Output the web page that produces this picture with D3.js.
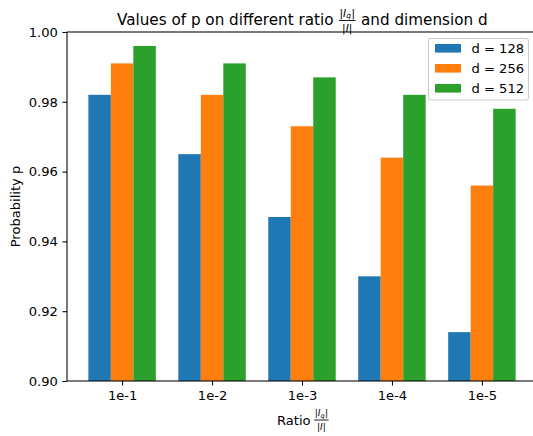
<!DOCTYPE html>
<html><head><meta charset="utf-8">
<script src="https://cdn.jsdelivr.net/npm/d3@7"></script>
<style>body{margin:0;background:#fff}svg{display:block;font-family:"DejaVu Sans",sans-serif}</style>
</head><body>
<svg id="c" width="533" height="436"></svg>
<script>
const categories = ["1e-1","1e-2","1e-3","1e-4","1e-5"];
const seriesNames = ["d = 128","d = 256","d = 512"];
const d128 = [0.982,0.965,0.947,0.930,0.914];
const d256 = [0.991,0.982,0.973,0.964,0.956];
const d512 = [0.996,0.991,0.987,0.982,0.978];
const yTicks = [0.90,0.92,0.94,0.96,0.98,1.00];
const colors = ["#1f77b4","#ff7f0e","#2ca02c"];
const series = [d128,d256,d512];

const svg = d3.select("#c");
const L=67, R=537, T=32, B=381;
const barW = 0.25;
const FS = 13.1;
const x = d3.scaleLinear().domain([-0.6125,4.6125]).range([L,R]);
const y = d3.scaleLinear().domain([0.90,1.00]).range([B,T]);

// bars
series.forEach((s,si)=>{
  svg.append("g").selectAll("rect").data(s).join("rect")
    .attr("x",(d,i)=>x(i+(si-1)*barW-barW/2))
    .attr("width",(d,i)=>x(i+(si-1)*barW+barW/2)-x(i+(si-1)*barW-barW/2))
    .attr("y",d=>y(d)).attr("height",d=>y(0.90)-y(d))
    .attr("fill",colors[si]);
});

// axes
const yAxis = d3.axisLeft(y).tickValues(yTicks).tickFormat(d3.format(".2f")).tickSize(4.6).tickPadding(4.6);
const gy = svg.append("g").attr("transform",`translate(${L},0)`).call(yAxis);
const xAxis = d3.axisBottom(x).tickValues(d3.range(categories.length)).tickFormat(i=>categories[i]).tickSize(4.6).tickPadding(4.6);
const gx = svg.append("g").attr("transform",`translate(0,${B})`).call(xAxis);
[gx,gy].forEach(g=>{
  g.select(".domain").remove();
  g.selectAll("line").attr("stroke","#000").attr("stroke-width",1.05);
  g.selectAll("text").attr("font-size",FS).attr("fill","#000").attr("font-family","DejaVu Sans");
});
// spines
svg.append("rect").attr("x",L).attr("y",T).attr("width",R-L).attr("height",B-T)
  .attr("fill","none").attr("stroke","#000").attr("stroke-width",1.05);

// fraction helper: draws |I_q| over |I| starting at x0; returns width
function fraction(g, x0, barY, fs){
  const num = g.append("text").attr("x",x0+1).attr("y",barY-0.3*fs-0.8).attr("font-size",fs);
  num.append("tspan").text("|");
  num.append("tspan").attr("font-style","italic").text("I");
  num.append("tspan").attr("font-style","italic").attr("font-size",fs*0.7).attr("dy",fs*0.12).text("q");
  num.append("tspan").attr("dy",-fs*0.12).attr("dx",0.5).text("|");
  const w = num.node().getComputedTextLength()+0.5;
  const den = g.append("text").attr("y",barY+fs*0.98+0.6).attr("font-size",fs);
  den.append("tspan").text("|");
  den.append("tspan").attr("font-style","italic").text("I");
  den.append("tspan").text("|");
  const dw = den.node().getComputedTextLength();
  den.attr("x",x0+1+(w-dw)/2);
  g.append("line").attr("x1",x0+0.5).attr("x2",x0+w+1.5).attr("y1",barY).attr("y2",barY)
    .attr("stroke","#000").attr("stroke-width",0.9);
  return w+2;
}

// title
const TFS = 15.2;
const tg = svg.append("g").attr("font-size",TFS);
const t1 = tg.append("text").attr("y",24.5).text("Values of p on different ratio");
const t2 = tg.append("text").attr("y",24.5).text("and dimension d");
const w1 = t1.node().getComputedTextLength();
const w2 = t2.node().getComputedTextLength();
const gap = 5;
const fwEst = 17;
const tx0 = (L+R)/2 - (w1+gap+fwEst+gap+w2)/2;
t1.attr("x",tx0);
const fw = fraction(tg, tx0+w1+gap, 20.5, TFS*0.7);
t2.attr("x",tx0+w1+gap+fw+gap);

// x label
const xg = svg.append("g").attr("font-size",FS);
const xl = xg.append("text").attr("x",277).attr("y",425).text("Ratio");
const xw = xl.node().getComputedTextLength();
fraction(xg, 277+xw+3, 420, FS*0.7);

// y label
svg.append("text").attr("transform",`translate(20,${(T+B)/2}) rotate(-90)`).attr("text-anchor","middle")
  .attr("font-size",FS).text("Probability p");

// legend
const lg = svg.append("g");
lg.append("rect").attr("x",428.5).attr("y",38.5).attr("width",100).attr("height",61.5).attr("rx",2.5)
  .attr("fill","#fff").attr("fill-opacity",0.8).attr("stroke","#ccc").attr("stroke-width",1.05);
seriesNames.forEach((n,i)=>{
  const yy = 48.3+i*20;
  lg.append("rect").attr("x",435).attr("y",yy-4.3).attr("width",26).attr("height",8.6).attr("fill",colors[i]);
  lg.append("text").attr("x",471.5).attr("y",yy+4.7).attr("font-size",FS).text(n);
});
</script>
</body></html>
